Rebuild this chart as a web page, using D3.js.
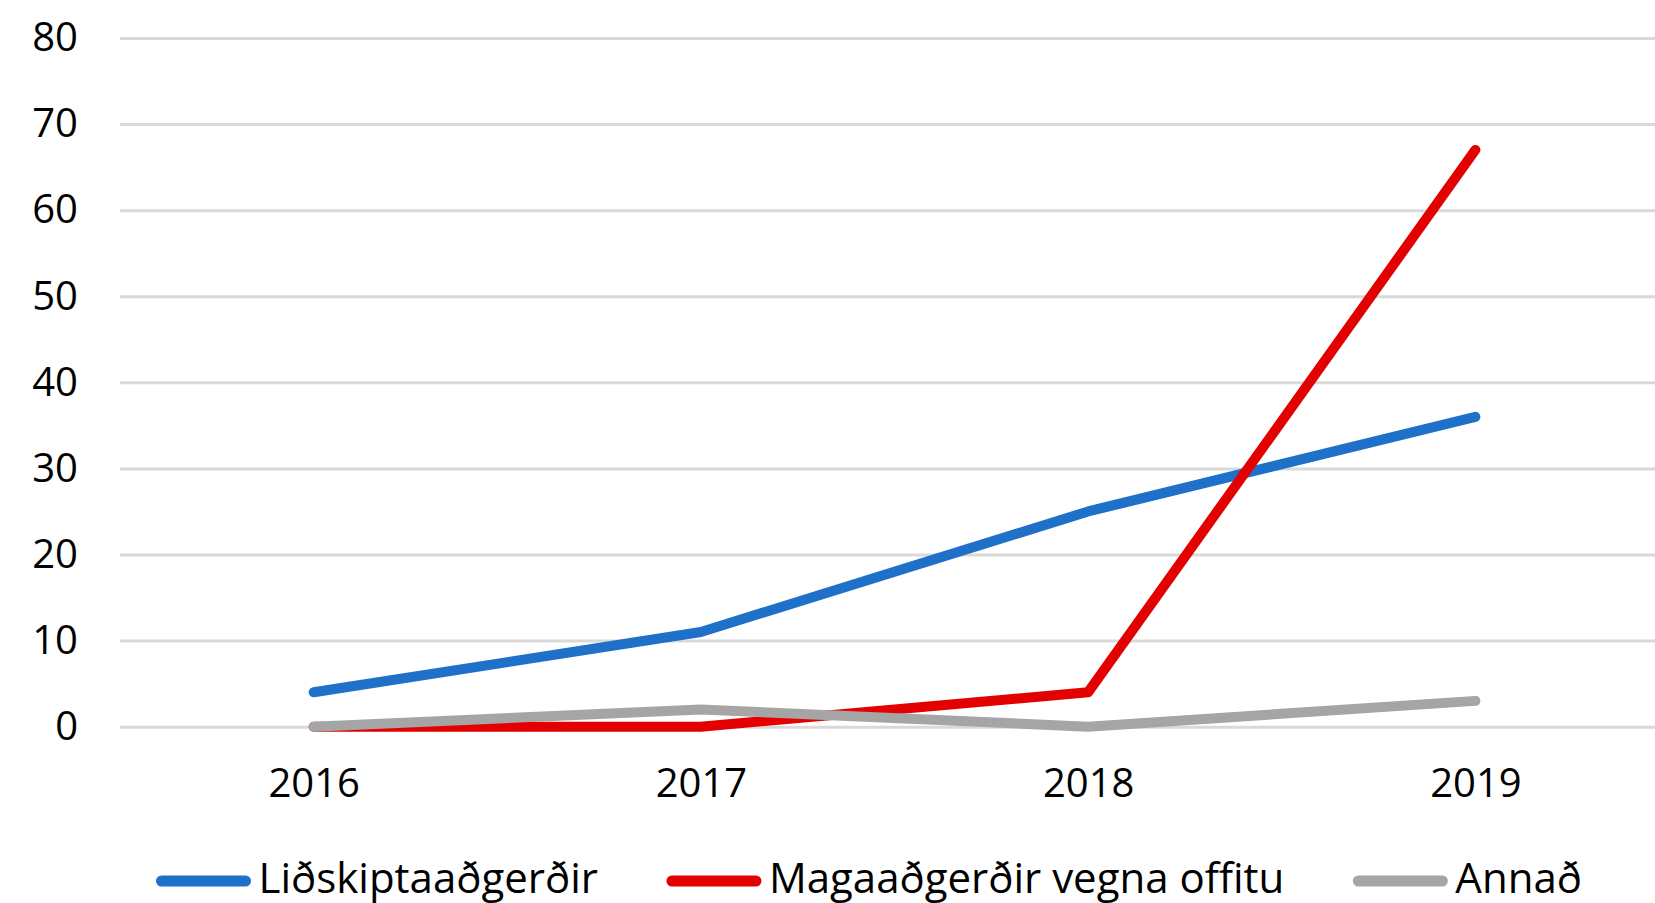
<!DOCTYPE html>
<html>
<head>
<meta charset="utf-8">
<script src="https://cdnjs.cloudflare.com/ajax/libs/d3/7.8.5/d3.min.js"></script>
<style>
  body { margin: 0; background: #fff; }
  svg { display: block; font-family: "Open Sans", sans-serif; }
  .grid line { stroke: #d9d9d9; stroke-width: 3; }
  .grid .domain { display: none; }
</style>
</head>
<body>
<svg id="chart"></svg>
<script>
// chart data
var years = ['2016', '2017', '2018', '2019'];
var seriesNames = ['Liðskiptaaðgerðir', 'Magaaðgerðir vegna offitu', 'Annað'];
var lidskipta = [4, 11, 25, 36];
var magaadgerdir = [0, 0, 4, 67];
var annad = [0, 2, 0, 3];
var yTicks = [0, 10, 20, 30, 40, 50, 60, 70, 80];
var colors = ['#1f70c8', '#e30000', '#a5a5a5'];

var W = 1655, H = 903;
var svg = d3.select('#chart').attr('width', W).attr('height', H);

var plotLeft = 120, plotRight = 1669, plotTop = 38, plotBottom = 726.7;

var x = d3.scalePoint().domain(years).range([plotLeft, plotRight]).padding(0.5);
var y = d3.scaleLinear().domain([0, 80]).range([plotBottom, plotTop]);

// y axis + gridlines
var gy = svg.append('g')
	.attr('class', 'grid')
	.attr('transform', 'translate(' + plotLeft + ',0)')
	.call(d3.axisLeft(y).tickValues(yTicks).tickSize(-(W - plotLeft)).tickPadding(42));
gy.attr('font-family', null).attr('font-size', null);
gy.selectAll('text')
	.attr('fill', '#000')
	.style('font-size', '40px');

// x axis labels
var gx = svg.append('g')
	.attr('transform', 'translate(0,' + plotBottom + ')')
	.call(d3.axisBottom(x).tickSize(0).tickPadding(42));
gx.attr('font-family', null).attr('font-size', null);
gx.select('.domain').remove();
gx.selectAll('text')
	.attr('fill', '#000')
	.style('font-size', '40px');

// lines
var series = [lidskipta, magaadgerdir, annad];
var line = d3.line()
	.x(function(d, i) { return x(years[i]); })
	.y(function(d) { return y(d); });

svg.selectAll('path.series')
	.data(series)
	.enter()
	.append('path')
	.attr('class', 'series')
	.attr('d', line)
	.attr('fill', 'none')
	.attr('stroke', function(d, i) { return colors[i]; })
	.attr('stroke-width', 10)
	.attr('stroke-linecap', 'round')
	.attr('stroke-linejoin', 'round');

// legend
var lx = 161.5, ly = 881;
var legend = svg.append('g');
seriesNames.forEach(function(name, i) {
	var item = legend.append('g');
	item.append('line')
		.attr('x1', lx).attr('x2', lx + 84)
		.attr('y1', ly).attr('y2', ly)
		.attr('stroke', colors[i])
		.attr('stroke-width', 11)
		.attr('stroke-linecap', 'round');
	var t = item.append('text')
		.attr('x', lx + 97)
		.attr('y', 893)
		.style('font-size', '42px')
		.attr('fill', '#000')
		.text(name);
	lx = lx + 97 + t.node().getComputedTextLength() + 74;
});
</script>
</body>
</html>
